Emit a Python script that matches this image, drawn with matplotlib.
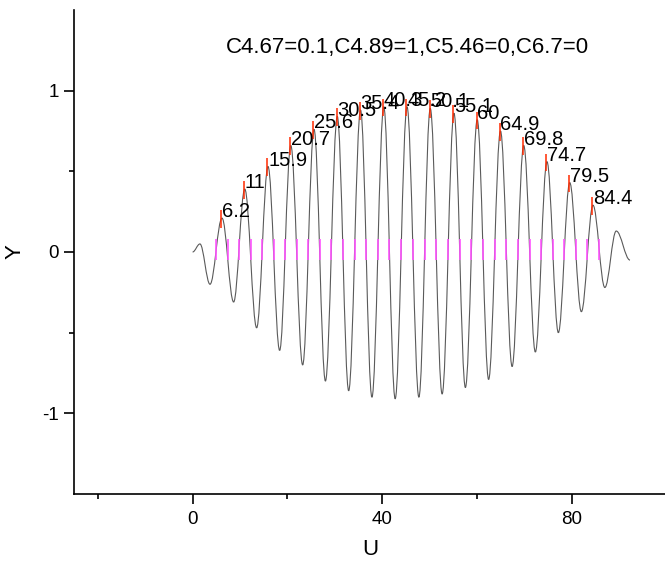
import numpy as np
import matplotlib
matplotlib.use("Agg")
import matplotlib.pyplot as plt
from matplotlib.path import Path
from matplotlib.patches import PathPatch

plt.rcParams['font.family'] = ['Liberation Sans', 'DejaVu Sans']

# peaks (labelled)
peak_u = [6.2, 11, 15.9, 20.7, 25.6, 30.5, 35.4, 40.3, 45.2, 50.1, 55.1,
          60, 64.9, 69.8, 74.7, 79.5, 84.4]
peak_y = [0.21, 0.39, 0.53, 0.66, 0.76, 0.84, 0.88, 0.90, 0.90, 0.89, 0.86,
          0.82, 0.75, 0.66, 0.56, 0.43, 0.29]

# troughs
trough_u = [3.67, 8.65, 13.5, 18.35, 23.2, 28.0, 32.9, 37.8, 42.7, 47.7,
            52.6, 57.5, 62.4, 67.35, 72.25, 77.1, 81.95, 86.9]
trough_y = [-0.20, -0.31, -0.47, -0.61, -0.70, -0.80, -0.86, -0.90, -0.91,
            -0.90, -0.88, -0.84, -0.79, -0.71, -0.62, -0.50, -0.37, -0.22]

# small wiggles at both ends of the curve
end_u = [0.0, 1.55, 89.3, 92.2]
end_y = [0.0, 0.05, 0.13, -0.05]

title = "C4.67=0.1,C4.89=1,C5.46=0,C6.7=0"

knots = sorted(zip(peak_u + trough_u + end_u, peak_y + trough_y + end_y))
ku = [k[0] for k in knots]
ky = [k[1] for k in knots]

fig = plt.figure(figsize=(6.65, 5.63), dpi=100)
ax = fig.add_axes([74 / 665, 69 / 563, 593 / 665, 484 / 563])

# smooth curve through the extrema (horizontal tangent at each one)
verts = [(ku[0], ky[0])]
codes = [Path.MOVETO]
for i in range(1, len(ku)):
    d = ku[i] - ku[i - 1]
    verts += [(ku[i - 1] + 0.364 * d, ky[i - 1]), (ku[i] - 0.364 * d, ky[i]), (ku[i], ky[i])]
    codes += [Path.CURVE4] * 3
ax.add_patch(PathPatch(Path(verts, codes), fill=False, edgecolor='#5a5a5a', lw=0.8))

# zero-crossing markers on both flanks of each peak
for u in peak_u:
    i = ku.index(u)
    for j in (i - 1, i + 1):
        xm = (ku[i] + ku[j]) / 2
        ax.plot([xm, xm], [-0.05, 0.08], color='#ff55ff', lw=1.2, solid_capstyle='butt')

# peak markers and labels
for u, y in zip(peak_u, peak_y):
    ax.plot([u - 0.15, u - 0.15], [y - 0.06, y + 0.05], color='#ff2a00', lw=1.1,
            solid_capstyle='butt')
    ax.text(u, y + 0.04, '%g' % u, ha='left', va='center', fontsize=14.5)

ax.text(45.2, 1.27, title, ha='center', va='center', fontsize=16)

ax.set_xlim(-25, 100)
ax.set_ylim(-1.5, 1.5)
ax.set_xticks([0, 40, 80])
ax.set_xticks([-20, 20, 60], minor=True)
ax.set_yticks([-1, 0, 1])
ax.set_yticks([-0.5, 0.5], minor=True)
ax.set_yticklabels(['-1', '0', '1'])

for side in ('top', 'right'):
    ax.spines[side].set_visible(False)
for side in ('left', 'bottom'):
    ax.spines[side].set_linewidth(1.2)

ax.tick_params(which='major', direction='out', length=7, width=1.2, labelsize=13.5)
ax.tick_params(which='minor', direction='out', length=3.6, width=1.2)
ax.tick_params(axis='x', which='major', pad=5)
ax.tick_params(axis='y', which='major', pad=4)

ax.set_xlabel('U', fontsize=16, labelpad=8)
ax.set_ylabel('Y', fontsize=16, labelpad=12)

fig.savefig('out.png', dpi=100)
